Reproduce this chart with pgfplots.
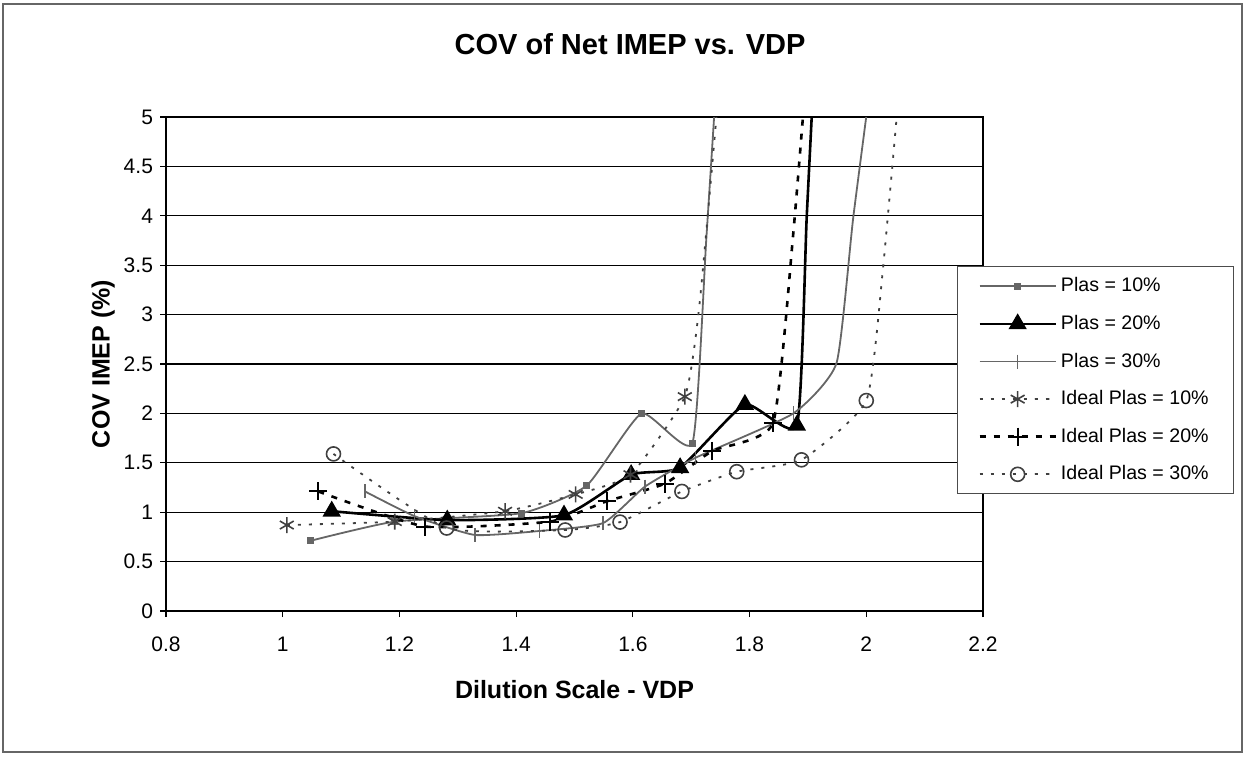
\documentclass[border=0pt]{standalone}
\usepackage{pgfplots}
\pgfplotsset{compat=1.18}
\usepackage{fontspec}
\setmainfont{Liberation Sans}
\begin{document}
\begin{tikzpicture}[x=1pt,y=1pt]
% page frame, 1 px = 0.5 pt
\path (0,0) rectangle (624,378);
\draw[black!60, line width=0.8pt] (1.5,2) rectangle (621,376);
\begin{axis}[
at={(83pt,72.5pt)}, anchor=south west,
scale only axis,
width=408.5pt, height=247pt,
xmin=0.8, xmax=2.2, ymin=0, ymax=5,
xtick={0.8,1,...,2.2}, ytick={0,0.5,...,5},
/pgf/number format/assume math mode=true,
tick label style={font=\fontsize{10.5}{12}\selectfont},
x tick label style={yshift=-6.5pt, /pgf/number format/.cd, fixed, precision=1},
y tick label style={/pgf/number format/.cd, fixed, precision=1},
tick align=outside, xtick pos=bottom, ytick pos=left,
major tick length=3pt,
tick style={black, line width=0.6pt},
axis line style={line width=1pt},
ymajorgrids=true,
grid style={black, line width=0.6pt},
title={COV of Net IMEP vs. VDP},
title style={font=\bfseries\fontsize{14.5}{16}\selectfont, at={(axis description cs:0.568,1.1235)}, anchor=center},
xlabel={Dilution Scale - VDP},
xlabel style={font=\bfseries\fontsize{12.5}{14}\selectfont, at={(axis description cs:0.5,-0.16)}, anchor=center},
ylabel={COV IMEP (\%)},
every axis y label/.style={at={(axis description cs:-0.077,0.5)}, rotate=90, anchor=center, font=\bfseries\fontsize{12.5}{14}\selectfont},
legend style={at={(axis description cs:0.968,0.698)}, anchor=north west,
  draw=black!70, line width=0.5pt, fill=white,
  font=\fontsize{9.8}{11}\selectfont, row sep=6.2pt,
  inner xsep=10.5pt, inner ysep=3.5pt,
  cells={anchor=west}},
legend image code/.code={%
  \draw[#1, mark=none] plot coordinates {(0pt,0pt) (38pt,0pt)};
  \draw[#1] plot coordinates {(19pt,0pt)};},
every axis plot/.append style={smooth, tension=0.3},
]
\addplot[black!60, line width=0.9pt, mark=square*, mark size=1.3pt, mark options={solid}, mark indices={1,...,6}]
coordinates {(1.047,0.71) (1.192,0.905) (1.409,0.99) (1.521,1.27) (1.615,2.00) (1.702,1.70) (1.726,3.78) (1.750,6.0)};
\addlegendentry{Plas = 10\%}
\addplot[black, line width=1.3pt, mark=triangle*, mark size=4pt, mark options={solid}, mark indices={1,...,7}]
coordinates {(1.084,1.01) (1.282,0.92) (1.482,0.97) (1.597,1.38) (1.681,1.45) (1.792,2.09) (1.881,1.88) (1.898,4.0) (1.915,6.0)};
\addlegendentry{Plas = 20\%}
\addplot[black!60, line width=0.9pt, mark=|, mark size=3.5pt, mark options={solid, line width=0.8pt}, mark indices={1,...,8}]
coordinates {(1.141,1.21) (1.226,0.96) (1.329,0.77) (1.44,0.81) (1.549,0.89) (1.621,1.26) (1.707,1.55) (1.875,2.00) (1.949,2.51) (1.978,4.0) (2.022,6.0)};
\addlegendentry{Plas = 30\%}
\addplot[black!75, line width=0.9pt, dash pattern=on 1.5pt off 4pt, mark=asterisk, mark size=4pt, mark options={solid, line width=0.8pt}, mark indices={1,...,6}]
coordinates {(1.007,0.87) (1.192,0.905) (1.381,1.01) (1.502,1.18) (1.596,1.38) (1.689,2.17) (1.715,3.15) (1.758,6.0)};
\addlegendentry{Ideal Plas = 10\%}
\addplot[black, line width=1.3pt, dash pattern=on 3pt off 4pt, mark=+, mark size=4.5pt, mark options={solid, line width=1pt}, mark indices={1,...,7}]
coordinates {(1.061,1.21) (1.244,0.855) (1.458,0.905) (1.555,1.11) (1.655,1.29) (1.736,1.62) (1.840,1.90) (1.875,3.83) (1.905,6.0)};
\addlegendentry{Ideal Plas = 20\%}
\addplot[black!75, line width=0.9pt, dash pattern=on 1.5pt off 4pt, mark=o, mark size=3.5pt, mark options={solid, line width=0.8pt, fill=white}, mark indices={1,...,8}]
coordinates {(1.087,1.59) (1.281,0.84) (1.484,0.82) (1.578,0.90) (1.684,1.21) (1.778,1.41) (1.889,1.53) (2.000,2.13) (2.029,3.49) (2.067,6.0)};
\addlegendentry{Ideal Plas = 30\%}
\end{axis}
\end{tikzpicture}
\end{document}
